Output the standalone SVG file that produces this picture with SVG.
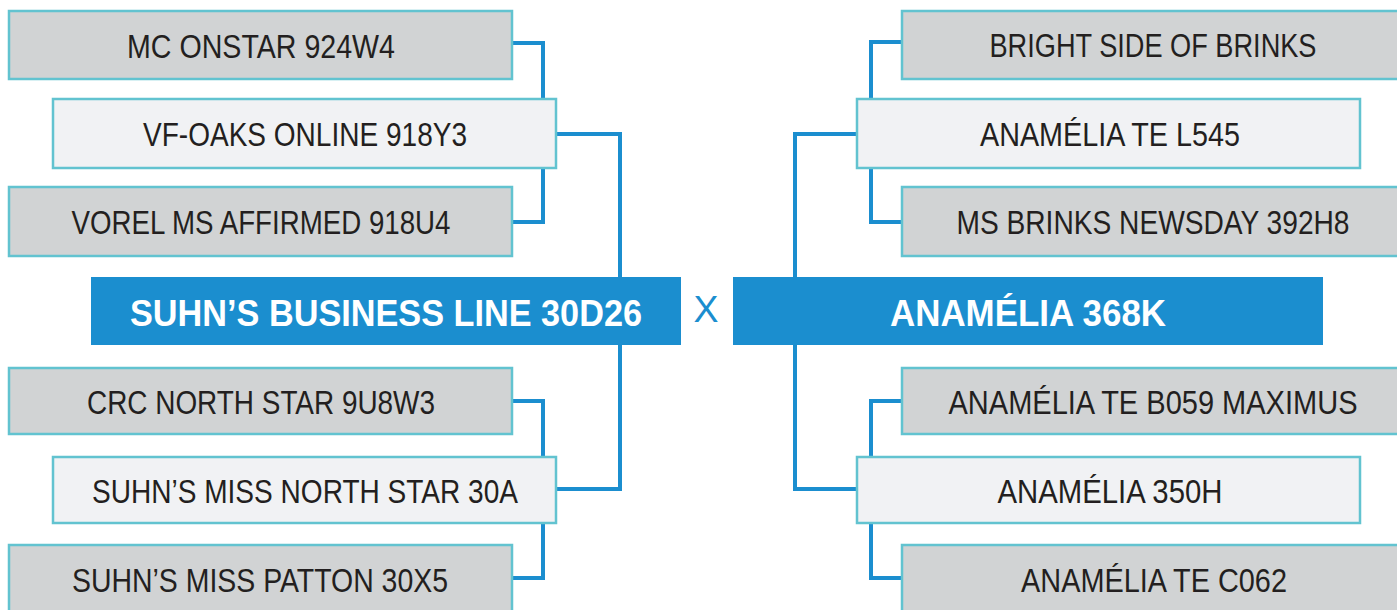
<svg xmlns="http://www.w3.org/2000/svg" width="1397" height="610" viewBox="0 0 1397 610">
<style>
.g{fill:#d1d3d4;stroke:#62c3d0;stroke-width:2.5}
.l{fill:#f1f2f4;stroke:#62c3d0;stroke-width:2.5}
.m{fill:#1b8ecf}
.c{fill:none;stroke:#1b8ecf;stroke-width:4;stroke-linejoin:miter}
.t{font-family:"Liberation Sans",Arial,sans-serif;font-size:32.5px;fill:#231f20;text-anchor:middle}
.b{font-family:"Liberation Sans",Arial,sans-serif;font-size:37.5px;font-weight:bold;fill:#ffffff;text-anchor:middle}
.x{font-family:"Liberation Sans",Arial,sans-serif;font-size:36px;fill:#1b8ecf;text-anchor:middle}
</style>
<rect width="1397" height="610" fill="#ffffff"/>
<g id="connectors">
<polyline class="c" points="512,43 543,43 543,98"/>
<polyline class="c" points="543,168 543,222 512,222"/>
<polyline class="c" points="556,134 620,134 620,277"/>
<polyline class="c" points="620,345 620,489 556,489"/>
<polyline class="c" points="512,401 543,401 543,457"/>
<polyline class="c" points="543,523 543,578 512,578"/>
<polyline class="c" points="902,42 871,42 871,98"/>
<polyline class="c" points="871,168 871,222 902,222"/>
<polyline class="c" points="857,134 795,134 795,277"/>
<polyline class="c" points="795,345 795,489 857,489"/>
<polyline class="c" points="902,401 871,401 871,457"/>
<polyline class="c" points="871,523 871,578 902,578"/>
</g>
<g id="n1"><rect class="g" x="9" y="11" width="503" height="68"/><text class="t" x="261" y="58" textLength="268" lengthAdjust="spacingAndGlyphs">MC ONSTAR 924W4</text></g>
<g id="n2"><rect class="l" x="53" y="99" width="503" height="69"/><text class="t" x="305" y="146" textLength="324" lengthAdjust="spacingAndGlyphs">VF-OAKS ONLINE 918Y3</text></g>
<g id="n3"><rect class="g" x="9" y="187" width="503" height="69"/><text class="t" x="261" y="234" textLength="379" lengthAdjust="spacingAndGlyphs">VOREL MS AFFIRMED 918U4</text></g>
<g id="main-left"><rect class="m" x="91" y="277" width="590" height="68"/><text class="b" x="386" y="326" textLength="512" lengthAdjust="spacingAndGlyphs">SUHN’S BUSINESS LINE 30D26</text></g>
<g id="vs"><text class="x" x="706" y="322" textLength="25" lengthAdjust="spacingAndGlyphs">X</text></g>
<g id="main-right"><rect class="m" x="733" y="277" width="590" height="68"/><text class="b" x="1028" y="326" textLength="276" lengthAdjust="spacingAndGlyphs">ANAMÉLIA 368K</text></g>
<g id="n4"><rect class="g" x="9" y="368" width="503" height="66"/><text class="t" x="261" y="414" textLength="348" lengthAdjust="spacingAndGlyphs">CRC NORTH STAR 9U8W3</text></g>
<g id="n5"><rect class="l" x="53" y="457" width="503" height="66"/><text class="t" x="305" y="503" textLength="426" lengthAdjust="spacingAndGlyphs">SUHN’S MISS NORTH STAR 30A</text></g>
<g id="n6"><rect class="g" x="9" y="545" width="503" height="70"/><text class="t" x="260" y="592" textLength="376" lengthAdjust="spacingAndGlyphs">SUHN’S MISS PATTON 30X5</text></g>
<g id="n7"><rect class="g" x="902" y="11" width="503" height="68"/><text class="t" x="1153" y="57" textLength="327" lengthAdjust="spacingAndGlyphs">BRIGHT SIDE OF BRINKS</text></g>
<g id="n8"><rect class="l" x="857" y="99" width="503" height="69"/><text class="t" x="1110" y="146" textLength="260" lengthAdjust="spacingAndGlyphs">ANAMÉLIA TE L545</text></g>
<g id="n9"><rect class="g" x="902" y="187" width="503" height="69"/><text class="t" x="1153" y="234" textLength="393" lengthAdjust="spacingAndGlyphs">MS BRINKS NEWSDAY 392H8</text></g>
<g id="n10"><rect class="g" x="902" y="368" width="503" height="66"/><text class="t" x="1153" y="414" textLength="409" lengthAdjust="spacingAndGlyphs">ANAMÉLIA TE B059 MAXIMUS</text></g>
<g id="n11"><rect class="l" x="857" y="457" width="503" height="66"/><text class="t" x="1110" y="503" textLength="225" lengthAdjust="spacingAndGlyphs">ANAMÉLIA 350H</text></g>
<g id="n12"><rect class="g" x="902" y="545" width="503" height="70"/><text class="t" x="1154" y="592" textLength="266" lengthAdjust="spacingAndGlyphs">ANAMÉLIA TE C062</text></g>
</svg>
